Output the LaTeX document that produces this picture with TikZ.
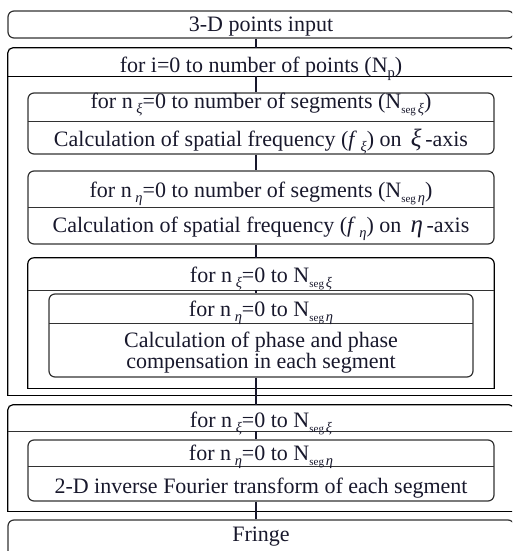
\documentclass[tikz,border=0pt]{standalone}
\usepackage{fontspec}
\setmainfont{Liberation Serif}
\definecolor{ink}{RGB}{24,24,44}
\definecolor{frame}{RGB}{50,50,50}
% Greek letters and lowered subscripts
\newcommand\gxi{\textit{ξ}}
\newcommand\geta{\textit{η}}
\newcommand\lsub[1]{\raisebox{-0.55ex}{\fontsize{14.5}{14.5}\selectfont #1}}
\newcommand\segsub[1]{\raisebox{-0.55ex}{\fontsize{11}{11}\selectfont seg\,\fontsize{14.5}{14.5}\selectfont #1}}
\newcommand\axisgr[1]{{\fontsize{25}{25}\selectfont #1}}
\tikzset{
  txt/.style={text=ink, font=\fontsize{22}{21}\selectfont, inner sep=0pt, anchor=base},
  rbox/.style={draw=frame, line width=1.2pt, rounded corners=6pt, minimum height=#1},
  frm/.style={draw=none, minimum height=#1, inner sep=0pt},
  conn/.style={draw=ink, line width=1.2pt},
  loopline/.style={draw=black, line width=1.2pt},
  divider/.style={draw=frame, line width=1.2pt},
}
\begin{document}
\begin{tikzpicture}[x=1pt,y=-1pt]
\useasboundingbox (0,0) rectangle (512,551);
\clip (0,0) rectangle (512,551);
\coordinate (cx) at (256,0);

% input
\node[rbox=27pt, minimum width=506pt] (input) at (261,24.5) {};
\node[txt] (inputt) at (261,32) {3-D points input};

% outer loop over points
\node[frm=347pt, minimum width=506pt] (lA) at (261,221.5) {};
\draw[loopline, rounded corners=5pt] (lA.south west) -- (lA.north west) -- (lA.north east) -- (lA.south east);
\draw[loopline, line cap=rect] (lA.south west) -- (lA.south east);
\node[frm=28pt, minimum width=506pt] (hA) at (261,62) {};
\draw[loopline] (hA.south west) -- (hA.south east);
\node[txt] (hAt) at (261,72) {for i=0 to number of points (N\lsub{p})};

% xi frequency
\node[rbox=61pt, minimum width=466pt] (b1) at (261,123.5) {};
\node[frm=28pt, minimum width=466pt] (h1) at (261,107) {};
\draw[divider] (h1.south west) -- (h1.south east);
\node[txt] (h1t) at (261,108) {for n\,\lsub{\gxi}=0 to number of segments (N\segsub{\gxi})};
\node[txt] (t1) at (261,146) {Calculation of spatial frequency (\textit{f}\,\lsub{\gxi}) on \,\axisgr{\gxi}\,-axis};

% eta frequency
\node[rbox=73pt, minimum width=466pt] (b2) at (261,207.5) {};
\node[frm=36pt, minimum width=466pt] (h2) at (261,189) {};
\draw[divider] (h2.south west) -- (h2.south east);
\node[txt] (h2t) at (261,197) {for n\,\lsub{\geta}=0 to number of segments (N\segsub{\geta})};
\node[txt] (t2) at (261,232) {Calculation of spatial frequency (\textit{f}\,\lsub{\geta}) on \,\axisgr{\geta}\,-axis};

% nested loop: phase
\node[frm=130pt, minimum width=466pt] (lC) at (261,323) {};
\draw[loopline, rounded corners=6pt] (lC.south west) -- (lC.north west) -- (lC.north east) -- (lC.south east);
\draw[loopline, line cap=rect] (lC.south west) -- (lC.south east);
\node[frm=32pt, minimum width=466pt] (hC) at (261,274) {};
\draw[divider] (hC.south west) -- (hC.south east);
\node[txt] (hCt) at (261,282) {for n\,\lsub{\gxi}=0 to N\segsub{\gxi}};
\node[rbox=83pt, minimum width=424pt] (b3) at (261,335.5) {};
\node[frm=29pt, minimum width=424pt] (h3) at (261,308.5) {};
\draw[divider] (h3.south west) -- (h3.south east);
\node[txt] (h3t) at (261,316) {for n\,\lsub{\geta}=0 to N\segsub{\geta}};
\node[txt] (t3a) at (261,347) {Calculation of phase and phase};
\node[txt] (t3b) at (261,368) {compensation in each segment};

% nested loop: inverse transform
\node[frm=106pt, minimum width=506pt] (lB) at (261,458) {};
\draw[loopline, rounded corners=5pt] (lB.south west) -- (lB.north west) -- (lB.north east) -- (lB.south east);
\draw[loopline, line cap=rect] (lB.south west) -- (lB.south east);
\node[frm=26pt, minimum width=506pt] (hB) at (261,418) {};
\draw[divider] (hB.south west) -- (hB.south east);
\node[txt] (hBt) at (261,427) {for n\,\lsub{\gxi}=0 to N\segsub{\gxi}};
\node[rbox=61pt, minimum width=466pt] (b4) at (261,470.5) {};
\node[frm=26pt, minimum width=466pt] (h4) at (261,453) {};
\draw[divider] (h4.south west) -- (h4.south east);
\node[txt] (h4t) at (261,460) {for n\,\lsub{\geta}=0 to N\segsub{\geta}};
\node[txt] (t4) at (261,493) {2-D inverse Fourier transform of each segment};

% output
\node[rbox=46pt, minimum width=506pt] (fringe) at (261,543) {};
\node[txt] (ft) at (261,541) {Fringe};

% connectors
\draw[conn] (input.south -| cx) -- (lA.north -| cx);
\draw[conn] (hA.south -| cx) -- (b1.north -| cx);
\draw[conn] (b1.south -| cx) -- (b2.north -| cx);
\draw[conn] (b2.south -| cx) -- (lC.north -| cx);
\draw[conn] (hC.south -| cx) -- (b3.north -| cx);
\draw[conn] (b3.south -| cx) -- (lB.north -| cx);
\draw[conn] (hB.south -| cx) -- (b4.north -| cx);
\draw[conn] (b4.south -| cx) -- (fringe.north -| cx);
\end{tikzpicture}
\end{document}
